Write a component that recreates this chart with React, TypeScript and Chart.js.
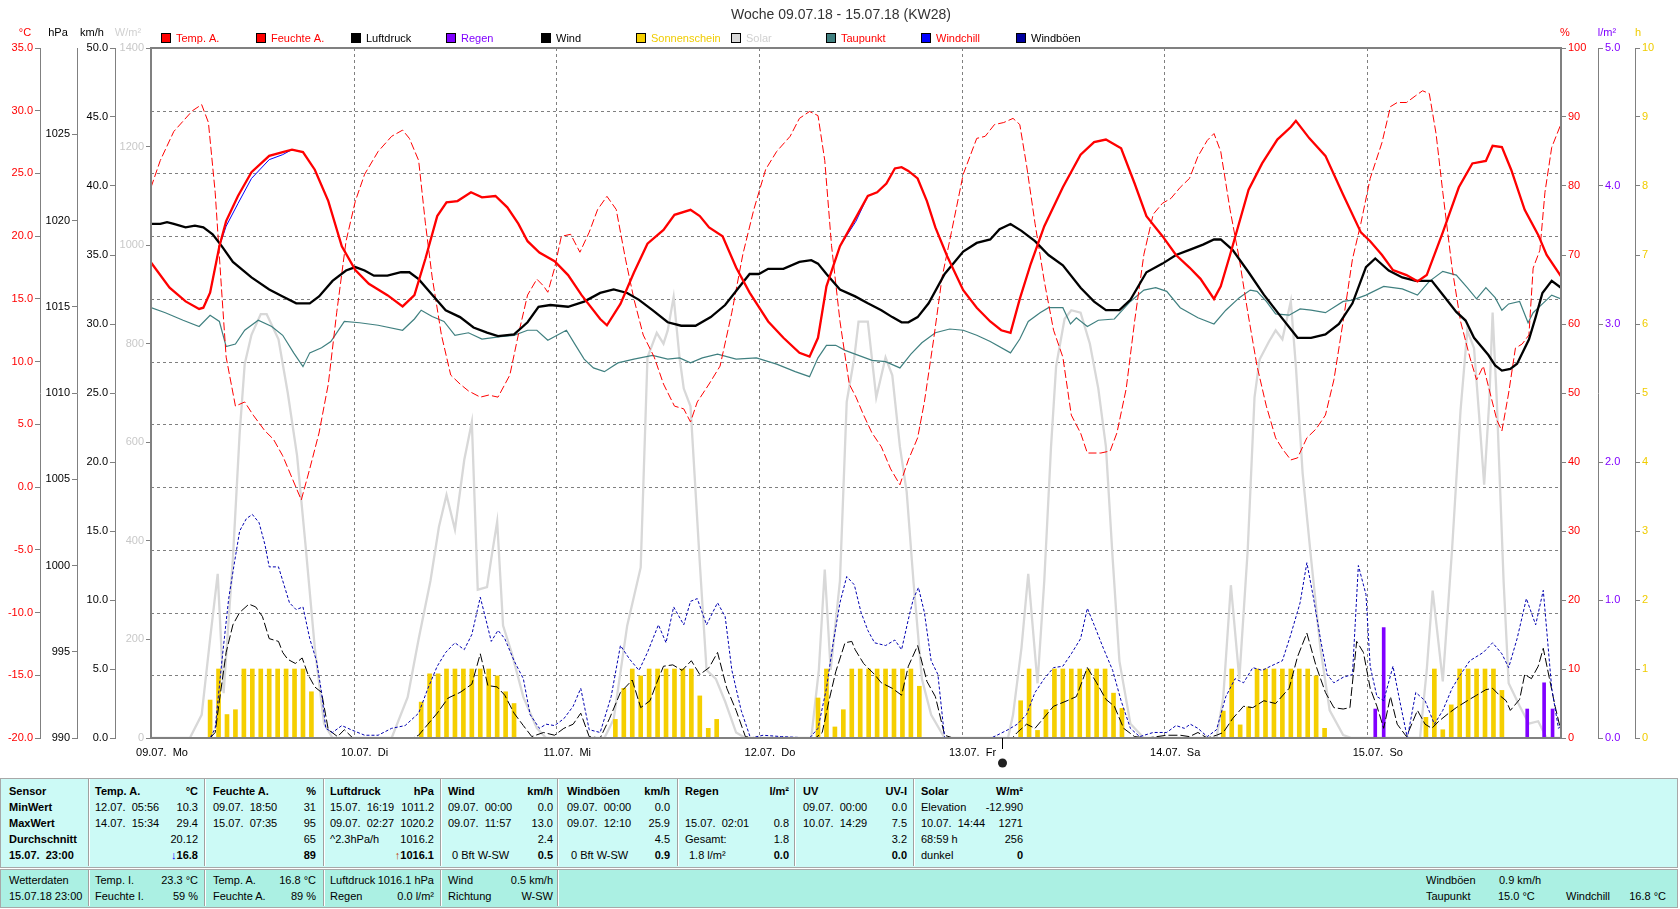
import React, { useEffect, useRef } from "react";
import { Chart, registerables } from "chart.js";

Chart.register(...registerables);

const FONT = '"Liberation Sans", Arial, Helvetica, sans-serif';
const GRID = "#808080";

// ---------- axes / labels ----------
const chartTitle = "Woche 09.07.18 - 15.07.18 (KW28)";
const dayHours = [0, 24, 48, 72, 96, 120, 144];
const dayLabels = ["09.07.  Mo", "10.07.  Di", "11.07.  Mi", "12.07.  Do", "13.07.  Fr", "14.07.  Sa", "15.07.  So"];
const tempTicks = [-20, -15, -10, -5, 0, 5, 10, 15, 20, 25, 30, 35];
const moonHour = 100.8;

// ---------- series (hour since 09.07. 00:00, value) ----------
const tempHours = [0,2.2,4.1,5.7,6.2,7,8.1,8.9,10.3,11.9,14,15.6,16.7,18,19.4,21,22.6,24.2,25.8,28,29.8,31.2,32.5,33.9,35,36.3,37.9,39.2,40.8,42.2,43.5,44.6,46,47.8,49.4,51,53.2,54,55.6,57.2,58.8,60.7,62,63.9,65,66.1,67.7,69.3,70.9,73.1,74.9,76.8,78,79,80,81.6,83.5,84.9,86,87.1,88.1,88.9,89.7,90.8,91.9,92.9,94.3,96.2,97.8,99.4,100.7,101.8,102.9,104.2,105.8,108,110.1,111.7,113.1,114.9,116.5,117.9,119.8,121.4,123,124.3,125.9,126.7,127.8,130,131.6,133.4,135,135.6,137.2,139.1,141.2,143.3,144.4,145.8,147.1,148.7,150,151.1,153,154.9,156.5,158.1,158.9,160,161.1,162.7,164.3,165.3,167];
const tempValues = [17.9,15.9,14.8,14.2,14.3,15.5,19.2,21.2,23.2,25.1,26.4,26.7,26.9,26.7,25.3,22.8,19.2,17.3,16.2,15.3,14.4,15.3,18.2,21.6,22.7,22.8,23.5,23.1,23.2,22.3,21.0,19.6,18.7,18.0,16.9,15.3,13.4,12.9,14.6,17.1,19.4,20.5,21.7,22.1,21.6,20.7,20.0,17.5,15.5,13.2,11.9,10.7,10.4,11.9,16.0,19.2,21.5,23.2,23.5,24.2,25.4,25.5,25.2,24.6,22.8,20.7,18.4,15.7,14.3,13.2,12.5,12.3,15.0,17.8,20.8,23.9,26.5,27.5,27.7,27.0,24.2,21.6,20.0,18.5,17.5,16.6,15.0,16.0,18.5,23.7,25.8,27.7,28.7,29.2,27.8,26.4,23.3,20.3,19.6,18.5,17.3,16.9,16.4,16.9,20.3,23.9,25.8,26.0,27.2,27.1,25.3,22.1,20.1,18.5,16.8];
const windchillValues = [17.9,15.9,14.8,14.2,14.3,15.5,19.2,20.8,22.6,24.6,26.1,26.5,26.9,26.7,25.3,22.8,19.2,17.3,16.2,15.3,14.4,15.3,18.2,21.6,22.7,22.8,23.5,23.1,23.2,22.3,21.0,19.6,18.7,18.0,16.9,15.3,13.4,12.9,14.6,17.1,19.4,20.5,21.7,22.1,21.6,20.7,20.0,17.5,15.5,13.2,11.9,10.7,10.4,11.9,16.0,19.2,21.2,23.2,23.5,24.2,25.4,25.5,25.2,24.6,22.8,20.7,18.4,15.7,14.3,13.2,12.5,12.3,15.0,17.8,20.8,23.9,26.5,27.5,27.7,27.0,24.2,21.6,20.0,18.5,17.5,16.6,15.0,16.0,18.5,23.7,25.8,27.7,28.7,29.2,27.8,26.4,23.3,20.3,19.6,18.5,17.3,16.9,16.4,16.9,20.3,23.9,25.8,26.0,27.2,27.1,25.3,22.1,20.1,18.5,16.8];

const humidity: number[][] = [[0,79.8],[1.1,83.7],[2.7,87.9],[3.8,89.4],[4.9,90.9],[6,91.8],[6.8,89.2],[7.6,79.1],[8.4,64.2],[8.9,55.2],[10,48.1],[11.1,48.7],[12.1,46.8],[13.5,44.5],[14.5,43.3],[15.6,40.9],[16.7,37.7],[17.8,34.5],[18.8,39],[19.9,44.2],[21,51.3],[22,61.7],[23.1,72],[24.2,77.8],[25.3,81.7],[26.9,85],[28.5,87.2],[29.8,88.1],[30.6,86.9],[31.7,83.7],[32.5,74.6],[33.3,66.8],[34.4,58.4],[35.5,52.6],[36.6,51.3],[37.6,50.3],[39,49.4],[40,49.7],[41.1,49.4],[42.5,52.6],[43.5,58.4],[44.6,64.2],[45.7,66.5],[46.5,65.5],[47,64.6],[47.8,68.1],[48.6,72.7],[49.7,73],[50.8,70.4],[51.9,73.3],[52.9,76.6],[54,78.5],[55.1,76.6],[56.2,69.4],[57.2,63.6],[58.3,58.4],[59.6,55.2],[60.7,51.3],[62,48.1],[63.1,47.7],[63.9,45.8],[64.7,48.7],[66.1,51.3],[67.4,53.9],[68.8,61.7],[70.1,70.1],[71.4,76.6],[72.8,82.4],[74.1,85],[75.7,87.2],[76.8,89.8],[78,90.8],[79,90.2],[79.8,83.7],[80.6,71.4],[81.6,60.4],[82.7,51.3],[83.5,49.4],[84.4,46.8],[85.4,44.2],[86.5,42.2],[87.6,39],[88.7,36.7],[89.7,40.3],[90.8,43.5],[91.6,48.7],[92.7,57.8],[93.7,66.8],[94.8,73.3],[96.2,81.7],[97.8,86.9],[98.8,87.2],[99.9,88.9],[101,89.2],[102.1,89.8],[102.9,88.9],[103.7,83],[104.7,74.6],[105.8,66.2],[106.9,59.1],[108,55.2],[109,46.8],[110.1,44.2],[110.9,41.3],[112.5,41.3],[113.6,41.6],[114.4,44.2],[115.5,50.6],[116.5,60.4],[117.6,70.1],[118.7,75.9],[119.8,77.5],[120.8,78.2],[121.9,79.8],[123,81.1],[124,84.3],[125.1,86.6],[125.9,87.6],[126.7,85],[127.8,76.6],[128.9,69.4],[129.9,61.7],[131,53.9],[132.1,48.1],[133.2,43.5],[134,41.9],[135,40.3],[135.8,40.6],[136.9,43.5],[138,44.8],[139.1,46.8],[140.1,51.9],[141.2,60.4],[142.3,69.4],[143.3,74.6],[144.4,81.1],[145.8,86.3],[146.8,91.5],[147.6,92.1],[148.7,92.1],[149.8,93.1],[150.6,93.8],[151.4,93.4],[152.2,87.6],[153,79.1],[154.1,68.1],[155.1,60.4],[156.2,55.2],[157,51.9],[157.8,53.9],[158.6,50],[159.4,46.1],[160,44.5],[160.8,50],[161.6,56.5],[162.4,57.1],[163.2,58.4],[163.7,68.1],[164.5,70.7],[165.1,79.1],[165.9,85.6],[167,89]];

const pressure: number[][] = [[0,1019.8],[1.1,1019.8],[1.9,1019.9],[2.7,1019.8],[4.1,1019.6],[5.2,1019.7],[6.2,1019.6],[7.3,1019.2],[8.4,1018.5],[9.7,1017.6],[11.9,1016.7],[14,1016.0],[15.6,1015.6],[17.2,1015.2],[18.8,1015.2],[19.9,1015.6],[21.5,1016.5],[23.1,1017.1],[24.2,1017.3],[25.3,1017.1],[26.4,1016.8],[28,1016.8],[29.6,1017.0],[30.6,1017.0],[31.7,1016.6],[33.3,1015.7],[34.9,1014.8],[36.6,1014.4],[38.2,1013.8],[39.8,1013.5],[41.1,1013.3],[43,1013.4],[44.6,1014.1],[45.9,1015.0],[47.3,1015.1],[49.4,1015.0],[51.3,1015.3],[53.2,1015.8],[54.8,1016.0],[56.4,1015.8],[57.8,1015.4],[59.4,1014.8],[61.2,1014.1],[62.8,1013.9],[64.5,1013.9],[66.3,1014.4],[68,1015.1],[69.6,1016.1],[70.9,1016.9],[72,1016.9],[73.1,1017.2],[74.9,1017.2],[76.8,1017.6],[78.2,1017.7],[79,1017.5],[80,1016.9],[81.6,1016.0],[83.4,1015.6],[84.9,1015.2],[86.5,1014.8],[87.8,1014.4],[88.9,1014.1],[89.7,1014.1],[90.8,1014.4],[92.1,1015.2],[94,1016.9],[96.2,1018.2],[97.8,1018.7],[99.4,1018.9],[100.5,1019.5],[101.8,1019.8],[103.1,1019.4],[104.7,1018.8],[106.3,1018.0],[108,1017.4],[110.1,1016.1],[111.7,1015.3],[113.1,1014.8],[114.7,1014.8],[116,1015.4],[117.9,1017.0],[119.8,1017.5],[121.4,1018.0],[123,1018.3],[124.6,1018.6],[125.9,1018.9],[126.7,1018.9],[128.1,1018.3],[130,1017.0],[131.8,1015.7],[133.7,1014.5],[135.8,1013.2],[137.4,1013.2],[139.1,1013.4],[140.7,1014.0],[142.3,1015.2],[143.9,1017.3],[145,1017.8],[146.6,1017.1],[148.2,1016.7],[149.8,1016.5],[151.7,1016.5],[153,1015.7],[154.6,1014.7],[155.7,1014.2],[156.7,1013.2],[158.4,1012.2],[159.2,1011.6],[160,1011.3],[161,1011.4],[161.8,1011.7],[163.2,1013.1],[164,1014.4],[164.8,1015.8],[165.9,1016.5],[167,1016.1]];

const dewpoint: number[][] = [[0,14.3],[1.7,13.9],[3.8,13.3],[5.7,12.8],[7,13.7],[8.1,13.2],[8.9,11.2],[10,11.4],[11.1,12.5],[12.7,13.3],[14.3,12.8],[15.6,12.1],[16.9,10.7],[18,9.6],[18.8,10.7],[20.2,11.1],[21.3,11.6],[22.9,13.2],[24.7,13.1],[26.9,12.9],[29.8,12.5],[31.2,13.4],[32,14.1],[33.3,13.6],[34.7,13.2],[36,12.1],[37.6,12.3],[39.2,11.8],[41.4,12.0],[43,12.1],[44.6,12.5],[45.7,12.5],[47,11.7],[48.1,12.1],[49.2,12.5],[50.2,11.4],[51.3,10.2],[52.4,9.5],[53.7,9.2],[55.3,9.9],[57.2,10.2],[59.4,10.5],[61.2,10.2],[62.6,10.3],[63.9,9.9],[65.3,10.3],[67.1,10.6],[69.3,10.2],[71.7,10.3],[74.1,9.8],[76.3,9.2],[78,8.8],[79,10.3],[80,11.3],[81.1,11.3],[82.2,10.9],[83.4,10.6],[85.4,10.1],[87,10.0],[88.7,9.5],[90,10.6],[91.3,11.5],[92.9,12.3],[94.6,12.6],[96.2,12.5],[97.8,12.1],[99.4,11.6],[101.8,10.7],[102.9,11.8],[103.9,13.2],[105.3,13.9],[106.3,14.3],[108,14.3],[108.9,13.0],[109.6,13.5],[110.9,12.8],[112.2,13.3],[114.1,13.4],[116,14.8],[117.6,15.7],[119,15.9],[120.3,15.6],[121.9,14.3],[124,13.5],[125.9,13.0],[127.3,14.1],[128.9,15.1],[130.2,15.7],[131,15.6],[132.1,14.8],[133.2,13.8],[134.8,13.7],[136.1,14.2],[137.4,14.1],[139.1,13.9],[141.2,14.8],[142.3,14.9],[143.9,15.3],[146,16.0],[148.2,15.8],[150,15.3],[151.4,16.4],[153,17.2],[154.6,16.9],[155.9,15.9],[157,15.0],[158.1,15.9],[159.2,15.1],[160,14.1],[160.8,14.6],[162.1,14.8],[163.1,13.1],[163.7,13.9],[164.8,14.6],[165.9,15.3],[167,15.0]];

const solar: number[][] = [[0,0],[4.6,0],[6,47],[7,201],[7.9,333],[8.6,91],[9.7,364],[10.5,618],[11.1,759],[11.9,818],[13,860],[13.7,860],[15.1,809],[16.2,700],[17.3,573],[18.3,392],[19.4,183],[20.5,29],[21.5,0],[28.5,0],[30.4,83],[31.7,201],[33.1,319],[34.1,428],[35,493],[36,423],[37.1,564],[38,641],[38.7,301],[39.8,306],[40.3,364],[41,439],[41.7,228],[42.7,174],[44.1,83],[45.7,20],[46.8,0],[53.7,0],[54.8,38],[56.4,228],[58,346],[58.8,772],[59.9,822],[60.7,800],[61.2,827],[61.9,895],[62.6,772],[63.1,709],[63.9,673],[65,355],[65.8,138],[66.9,120],[68,74],[69.3,11],[70.4,0],[78.2,0],[79.1,138],[79.8,342],[80.5,138],[81.6,319],[82.4,682],[83.3,772],[83.8,845],[84.9,845],[85.9,691],[87,772],[87.8,736],[88.7,591],[89.5,500],[90.3,319],[91.3,120],[92.4,47],[94,0],[101.5,0],[102.1,47],[103.1,183],[103.9,333],[105,111],[105.8,319],[106.6,591],[107.2,754],[108.2,850],[109,868],[110.1,863],[111.2,800],[112.2,709],[113.1,591],[113.9,364],[114.7,156],[116,29],[117.6,0],[126.2,0],[127,83],[127.9,310],[128.9,120],[129.9,383],[130.7,691],[131.3,768],[132.4,804],[133.2,827],[134,809],[135,886],[135.6,754],[136.4,537],[137.4,364],[138.5,183],[139.6,56],[141.2,6],[142.2,0],[150.3,0],[151.1,138],[151.8,299],[153,115],[154.1,383],[155.1,664],[155.9,827],[156.7,791],[157.3,655],[157.9,514],[158.5,682],[158.9,863],[159.4,682],[160.2,319],[160.8,111],[162.1,65],[163.2,29],[164.3,34],[165.3,0],[167,0]];

const wind: number[][] = [[0,0],[7,0],[7.6,0.4],[8.1,2.7],[8.9,6.2],[9.7,8.2],[10.5,9.1],[11.6,9.7],[12.4,9.5],[13.2,8.8],[14,7.2],[15.1,7.0],[15.6,6.2],[16.2,5.7],[17.1,5.4],[17.9,5.8],[18.6,4.6],[19.4,3.7],[20.2,3.3],[21,0.6],[22.1,0.1],[22.9,0.6],[23.9,0],[31,0],[31.7,0.2],[32.8,1.0],[33.9,1.8],[35.2,2.9],[36.6,3.3],[38,3.9],[39,6.1],[39.9,3.8],[41,3.7],[41.9,3.1],[43,1.8],[44.1,0.9],[45.1,0.1],[46.5,0.4],[47.8,0.2],[48.9,0.7],[50,1.0],[50.9,1.8],[51.9,0.1],[53.2,0],[54.3,1.4],[55.6,3.3],[57,4.2],[58,2.2],[59.1,2.7],[59.9,4.0],[60.7,5.2],[61.8,5.3],[62.9,4.9],[64,5.6],[65,4.6],[66.1,5.1],[67.1,6.2],[68.2,3.6],[69.3,2.0],[70.4,0.1],[71.4,0],[78.7,0],[79.5,0.4],[80.3,2.7],[81.1,4.8],[82.2,6.9],[83,7.0],[83.4,6.4],[84.4,5.4],[85.7,4.6],[86.5,4.0],[87.8,3.6],[88.9,3.1],[89.7,5.2],[90.8,6.7],[91.9,4.1],[92.9,3.0],[94,0.2],[95,0],[102,0],[102.6,0.4],[103.7,1.0],[104.7,0.7],[105.8,1.5],[106.9,2.3],[108.5,2.7],[109.6,3.0],[110.9,5.1],[112,4.0],[113.1,2.8],[114.1,2.3],[115.2,0.7],[116.5,0.1],[118,0],[120.3,0.2],[121.9,0.2],[123,0.1],[124,0.4],[125.1,0],[126.2,0.2],[127,0.4],[128.1,1.4],[129.4,2.3],[130.5,2.2],[131.8,2.7],[133.2,2.5],[134.8,3.6],[135.8,5.9],[136.9,7.6],[138,5.2],[139.1,3.3],[140.1,2.2],[141.2,2.1],[142,2.2],[142.8,7.0],[143.6,6.2],[144.4,3.6],[145.2,2.3],[146,0.7],[146.8,3.0],[147.6,1.0],[148.7,0.1],[150,2.0],[150.9,1.0],[151.7,0.7],[152.5,1.2],[153.5,1.7],[154.6,2.2],[155.9,2.7],[157,3.1],[158.1,3.5],[158.9,3.6],[159.7,3.1],[160.5,2.7],[161,2.0],[162.1,2.8],[162.7,4.6],[163.5,4.3],[164.3,5.2],[164.9,6.5],[165.6,4.4],[166.3,2.3],[167,0.5]];

const gusts: number[][] = [[0,0],[7,0],[7.6,0.7],[8.4,5.6],[9.2,10.1],[9.8,12.4],[10.5,15.0],[11.3,15.9],[12,16.2],[12.8,15.6],[13.5,14.0],[14,12.4],[15.1,12.4],[15.6,11.4],[16.4,9.8],[17.2,9.3],[18,9.5],[18.8,7.2],[19.6,5.6],[20.2,3.3],[20.7,0.7],[21.5,0.4],[22.6,0.9],[23.7,0.6],[25.3,0.2],[26.9,0.2],[28.5,0.7],[30.1,0.9],[31.7,1.8],[32.8,3.6],[33.9,5.2],[34.9,6.2],[36,6.9],[37.1,6.4],[38,7.5],[39,10.2],[39.7,8.5],[40.3,7.0],[41.1,7.8],[41.9,7.2],[43,5.6],[44.1,4.3],[44.9,1.7],[46,0.7],[46.8,1.0],[47.8,0.9],[48.9,1.4],[50,2.3],[50.9,3.6],[51.9,0.6],[53.2,0.4],[54.5,3.0],[55.6,6.7],[56.7,5.7],[57.8,4.9],[58.8,6.2],[60.1,8.2],[61,6.9],[61.9,9.5],[63.1,8.2],[63.9,9.9],[64.7,10.1],[65.8,8.2],[67.1,9.8],[68,8.8],[68.8,4.9],[69.9,2.0],[71,0],[72.5,0.2],[74.7,0.1],[78,0],[79,0.7],[80,3.6],[80.8,6.9],[81.6,9.8],[82.4,11.7],[83.3,11.1],[84.1,9.1],[84.9,7.8],[85.7,6.9],[87,6.7],[88.1,7.1],[88.9,6.4],[89.7,8.6],[90.3,10.1],[90.9,10.9],[91.6,9.1],[92.4,5.6],[93.2,4.6],[94,0],[99.5,0],[100.2,0.2],[101.5,0.6],[102.6,1.0],[103.7,1.7],[104.7,3.3],[105.8,4.3],[106.9,5.1],[108,5.2],[109,6.1],[110.1,7.2],[110.9,9.4],[111.7,8.2],[112.8,6.5],[113.9,4.9],[114.9,2.7],[116,0.7],[117.1,0.1],[118.7,0.4],[120.3,0.4],[121.4,0.9],[122.4,0.7],[123.1,1.0],[124,0.7],[125.1,0.1],[126.2,0.6],[127.3,3.0],[128.4,4.3],[129.4,4.0],[130.5,5.1],[131.6,4.9],[132.6,5.2],[134,5.6],[135,7.5],[136.1,9.8],[136.9,12.7],[137.7,10.1],[138.5,7.2],[139.3,4.6],[140.1,4.0],[141.2,4.4],[142.3,4.6],[143,12.5],[143.9,10.4],[144.4,5.2],[145.2,3.0],[146,2.7],[147.1,5.2],[147.9,2.7],[148.8,0],[149.8,3.3],[150.9,2.7],[152,1.0],[153,2.0],[154.1,3.6],[155.1,4.6],[156.2,5.6],[157.8,6.2],[158.9,6.9],[160,6.1],[160.8,5.1],[161.8,7.2],[162.9,10.1],[164,8.2],[164.9,10.7],[165.9,3.6],[166.7,0.7],[167,0.9]];

const sunshine: number[][] = [[7,0.55],[8,1],[9,0.34],[10,0.41],[11,1],[12,1],[13,1],[14,1],[15,1],[16,1],[17,1],[18,1],[19,0.67],
[32,0.52],[33,0.93],[34,0.93],[35,1],[36,1],[37,1],[38,1],[39,1],[40,1],[41,0.9],[42,0.67],[43,0.5],
[55,0.27],[56,0.72],[57,1],[58,0.9],[59,1],[60,1],[61,1],[62,1],[63,1],[64,1],[65,0.61],[66,0.14],[67,0.27],
[79,0.58],[80,1],[81,0.16],[82,0.41],[83,1],[84,1],[85,1],[86,1],[87,1],[88,1],[89,1],[90,1],[91,0.75],
[103,0.54],[104,1],[105,0.11],[106,0.41],[107,1],[108,1],[109,1],[110,1],[111,1],[112,1],[113,1],[114,0.65],[115,0.43],
[127,0.39],[128,1],[129,0.19],[130,0.45],[131,1],[132,1],[133,1],[134,1],[135,1],[136,1],[137,1],[138,0.9],[139,0.14],
[151,0.3],[152,1],[153,0.12],[154,0.48],[155,1],[156,1],[157,1],[158,1],[159,1],[160,0.69]];

const rain: number[][] = [[145,0.21],[146,0.8],[163,0.21],[165,0.4],[166,0.21]];

// ---------- legend ----------
const legendLabels = ["Temp. A.", "Feuchte A.", "Luftdruck", "Regen", "Wind", "Sonnenschein", "Solar", "Taupunkt", "Windchill", "Windböen"];
const legendFills = ["#FF0000", "#FF0000", "#000000", "#8000FF", "#000000", "#F5CF00", "#D8D8D8", "#408080", "#0000FF", "#0000A0"];
const legendTextColors = ["#FF0000", "#FF0000", "#000000", "#8000FF", "#000000", "#F0CC00", "#D0D0D0", "#FF0000", "#FF0000", "#000000"];

const fromPairs = (p: number[][]) => p.map(([x, y]) => ({ x, y }));
const fromArrays = (h: number[], v: number[]) => h.slice(0, Math.min(h.length, v.length)).map((x, i) => ({ x, y: v[i] }));

const decorPlugin = {
  id: "decor",
  beforeDatasetsDraw(chart: any) {
    const { ctx, chartArea: a, scales } = chart;
    ctx.save();
    ctx.strokeStyle = GRID;
    ctx.lineWidth = 1;
    ctx.setLineDash([3, 3]);
    for (const v of tempTicks) {
      const y = Math.round(scales.yT.getPixelForValue(v)) + 0.5;
      if (y <= a.top + 2 || y >= a.bottom - 2) continue;
      ctx.beginPath();
      ctx.moveTo(a.left, y);
      ctx.lineTo(a.right, y);
      ctx.stroke();
    }
    for (const h of dayHours) {
      const x = Math.round(scales.x.getPixelForValue(h)) + 0.5;
      if (x <= a.left + 2) continue;
      ctx.beginPath();
      ctx.moveTo(x, a.top);
      ctx.lineTo(x, a.bottom);
      ctx.stroke();
    }
    ctx.restore();
  },
  afterDatasetsDraw(chart: any) {
    const { ctx, chartArea: a } = chart;
    ctx.save();
    ctx.strokeStyle = GRID;
    ctx.lineWidth = 2;
    ctx.strokeRect(a.left, a.top, a.right - a.left, a.bottom - a.top);
    ctx.restore();
  },
  afterDraw(chart: any) {
    const { ctx, chartArea: a, scales } = chart;
    ctx.save();
    // title
    ctx.font = `14px ${FONT}`;
    ctx.fillStyle = "#333333";
    ctx.textAlign = "center";
    ctx.textBaseline = "middle";
    ctx.fillText(chartTitle, 841, 15);
    // legend
    ctx.font = `11px ${FONT}`;
    ctx.textAlign = "left";
    legendLabels.forEach((lab, i) => {
      const x = 161 + i * 95;
      ctx.fillStyle = legendFills[i];
      ctx.fillRect(x, 33, 10, 10);
      ctx.strokeStyle = "#000";
      ctx.lineWidth = 1;
      ctx.strokeRect(x + 0.5, 33.5, 9, 9);
      ctx.fillStyle = legendTextColors[i];
      ctx.fillText(lab, x + 15, 38.5);
    });
    // axis units
    const units: [string, number, string][] = [
      ["°C", 25, "#FF0000"], ["hPa", 58, "#000"], ["km/h", 92, "#000"], ["W/m²", 128, "#D0D0D0"],
      ["%", 1565, "#FF0000"], ["l/m²", 1607, "#8000FF"], ["h", 1638, "#F0CC00"],
    ];
    ctx.textAlign = "center";
    for (const [t, x, c] of units) {
      ctx.fillStyle = c;
      ctx.fillText(t, x, 33);
    }
    // moon phase marker
    const mx = Math.round(scales.x.getPixelForValue(moonHour)) + 0.5;
    ctx.strokeStyle = "#000";
    ctx.lineWidth = 1;
    ctx.beginPath();
    ctx.moveTo(mx, a.bottom);
    ctx.lineTo(mx, a.bottom + 11);
    ctx.stroke();
    ctx.fillStyle = "#202020";
    ctx.beginPath();
    ctx.arc(mx, a.bottom + 25, 4.5, 0, Math.PI * 2);
    ctx.fill();
    ctx.restore();
  },
};

function yAxis(position: string, weight: number, width: number, min: number, max: number, step: number, color: string, fmt: (v: number) => string, borderWidth: number, dropTop = false) {
  return {
    type: "linear",
    position,
    weight,
    min,
    max,
    afterFit: (s: any) => { s.width = width; },
    afterBuildTicks: dropTop ? (s: any) => { s.ticks = s.ticks.filter((t: any) => t.value < max); } : undefined,
    ticks: { stepSize: step, color, font: { family: FONT, size: 11 }, padding: 2, autoSkip: false, includeBounds: false, callback: (v: any) => fmt(Number(v)) },
    grid: { display: true, drawOnChartArea: false, drawTicks: true, tickLength: 5, color: GRID, lineWidth: 1 },
    border: { display: true, color: GRID, width: borderWidth },
  };
}

function line(label: string, data: any[], yAxisID: string, color: string, width: number, dash: number[], order: number) {
  return {
    type: "line", label, data, yAxisID, xAxisID: "x",
    borderColor: color, backgroundColor: color, borderWidth: width, borderDash: dash,
    pointRadius: 0, tension: 0, fill: false, order, spanGaps: true,
  };
}

export default function App() {
  const ref = useRef<HTMLCanvasElement | null>(null);
  useEffect(() => {
    if (!ref.current) return;
    const chart = new Chart(ref.current, {
      type: "line",
      data: {
        datasets: [
          line("Temp. A.", fromArrays(tempHours, tempValues), "yT", "#FF0000", 2.3, [], 1),
          line("Windchill", fromArrays(tempHours, windchillValues), "yT", "#0000FF", 1, [], 2),
          line("Luftdruck", fromPairs(pressure), "yP", "#000000", 2.3, [], 3),
          line("Feuchte A.", fromPairs(humidity), "yPct", "#FF0000", 1, [8, 3], 4),
          line("Taupunkt", fromPairs(dewpoint), "yT", "#408080", 1.2, [], 5),
          line("Windböen", fromPairs(gusts), "yW", "#0000B0", 1, [3, 2], 6),
          line("Wind", fromPairs(wind), "yW", "#000000", 1, [9, 3], 7),
          { type: "bar", label: "Regen", data: fromPairs(rain), yAxisID: "yR", xAxisID: "x", backgroundColor: "#8000FF", borderWidth: 0, barThickness: 3, grouped: false, order: 8 },
          { type: "bar", label: "Sonnenschein", data: fromPairs(sunshine), yAxisID: "yH", xAxisID: "x", backgroundColor: "#F5CF00", borderWidth: 0, barThickness: 4, grouped: false, order: 9 },
          line("Solar", fromPairs(solar), "yS", "#D8D8D8", 2.3, [], 10),
        ] as any,
      },
      options: {
        animation: false,
        responsive: false,
        devicePixelRatio: 1,
        events: [],
        layout: { padding: { top: 48, bottom: 7, left: 0, right: 0 } },
        plugins: { legend: { display: false }, tooltip: { enabled: false }, title: { display: false } },
        scales: {
          x: {
            type: "linear", position: "bottom", min: 0, max: 167, offset: false,
            afterFit: (s: any) => { s.height = 30; },
            afterBuildTicks: (s: any) => { s.ticks = dayHours.map((v) => ({ value: v })); },
            ticks: {
              autoSkip: false, maxRotation: 0, minRotation: 0, padding: 8, labelOffset: 11,
              color: "#000", font: { family: FONT, size: 11 },
              callback: (_v: any, i: number) => dayLabels[i] ?? "",
            },
            grid: { display: false, drawTicks: false, offset: false },
            border: { display: true, color: GRID, width: 2 },
          },
          yT: yAxis("left", 3, 40, -20, 35, 5, "#FF0000", (v) => v.toFixed(1), 1),
          yP: yAxis("left", 2, 37, 990, 1030, 5, "#000000", (v) => String(v), 1, true),
          yW: yAxis("left", 1, 38, 0, 50, 5, "#000000", (v) => v.toFixed(1), 1),
          yS: yAxis("left", 0, 36, 0, 1400, 200, "#C8C8C8", (v) => String(v), 2),
          yPct: yAxis("right", 0, 37, 0, 100, 10, "#FF0000", (v) => String(v), 2),
          yR: yAxis("right", 1, 37, 0, 5, 1, "#8000FF", (v) => v.toFixed(1), 1),
          yH: yAxis("right", 2, 45, 0, 10, 1, "#F0CC00", (v) => String(v), 1),
        } as any,
      },
      plugins: [decorPlugin as any],
    });
    return () => chart.destroy();
  }, []);

  const sepTop = [88, 204, 323, 440, 557, 677, 794, 913];
  const sepBottom = [88, 204, 323, 440, 557];

  type Cell = [number, number, string, boolean?, boolean?, string?];
  // [x, row, text, rightAligned, bold]
  const topCells: Cell[] = [
    [9, 0, "Sensor", false, true], [95, 0, "Temp. A.", false, true], [198, 0, "°C", true, true],
    [213, 0, "Feuchte A.", false, true], [316, 0, "%", true, true], [330, 0, "Luftdruck", false, true], [434, 0, "hPa", true, true],
    [448, 0, "Wind", false, true], [553, 0, "km/h", true, true], [567, 0, "Windböen", false, true], [670, 0, "km/h", true, true],
    [685, 0, "Regen", false, true], [789, 0, "l/m²", true, true], [803, 0, "UV", false, true], [907, 0, "UV-I", true, true],
    [921, 0, "Solar", false, true], [1023, 0, "W/m²", true, true],
    [9, 1, "MinWert", false, true], [95, 1, "12.07.  05:56"], [198, 1, "10.3", true], [213, 1, "09.07.  18:50"], [316, 1, "31", true],
    [330, 1, "15.07.  16:19"], [434, 1, "1011.2", true], [448, 1, "09.07.  00:00"], [553, 1, "0.0", true],
    [567, 1, "09.07.  00:00"], [670, 1, "0.0", true], [803, 1, "09.07.  00:00"], [907, 1, "0.0", true],
    [921, 1, "Elevation"], [1023, 1, "-12.990", true],
    [9, 2, "MaxWert", false, true], [95, 2, "14.07.  15:34"], [198, 2, "29.4", true], [213, 2, "15.07.  07:35"], [316, 2, "95", true],
    [330, 2, "09.07.  02:27"], [434, 2, "1020.2", true], [448, 2, "09.07.  11:57"], [553, 2, "13.0", true],
    [567, 2, "09.07.  12:10"], [670, 2, "25.9", true], [685, 2, "15.07.  02:01"], [789, 2, "0.8", true],
    [803, 2, "10.07.  14:29"], [907, 2, "7.5", true], [921, 2, "10.07.  14:44"], [1023, 2, "1271", true],
    [9, 3, "Durchschnitt", false, true], [198, 3, "20.12", true], [316, 3, "65", true], [330, 3, "^2.3hPa/h"], [434, 3, "1016.2", true],
    [553, 3, "2.4", true], [670, 3, "4.5", true], [685, 3, "Gesamt:"], [789, 3, "1.8", true], [907, 3, "3.2", true],
    [921, 3, "68:59 h"], [1023, 3, "256", true],
    [9, 4, "15.07.  23:00", false, true], [316, 4, "89", true, true],
    [452, 4, "0 Bft W-SW"], [553, 4, "0.5", true, true], [571, 4, "0 Bft W-SW"], [670, 4, "0.9", true, true],
    [689, 4, "1.8 l/m²"], [789, 4, "0.0", true, true], [907, 4, "0.0", true, true], [921, 4, "dunkel"], [1023, 4, "0", true, true],
  ];
  const bottomCells: Cell[] = [
    [9, 0, "Wetterdaten"], [9, 1, "15.07.18 23:00"],
    [95, 0, "Temp. I."], [198, 0, "23.3 °C", true], [95, 1, "Feuchte I."], [198, 1, "59 %", true],
    [213, 0, "Temp. A."], [316, 0, "16.8 °C", true], [213, 1, "Feuchte A."], [316, 1, "89 %", true],
    [330, 0, "Luftdruck"], [434, 0, "1016.1 hPa", true], [330, 1, "Regen"], [434, 1, "0.0 l/m²", true],
    [448, 0, "Wind"], [553, 0, "0.5 km/h", true], [448, 1, "Richtung"], [553, 1, "W-SW", true],
    [1426, 0, "Windböen"], [1499, 0, "0.9 km/h"], [1426, 1, "Taupunkt"], [1498, 1, "15.0 °C"],
    [1566, 1, "Windchill"], [1666, 1, "16.8 °C", true],
  ];

  const renderCell = (c: Cell, top0: number, key: string) => {
    const [x, row, text, right, bold] = c;
    const style: any = {
      position: "absolute", top: top0 + row * 16, lineHeight: "16px", whiteSpace: "pre",
      fontWeight: bold ? 700 : 400, color: "#000",
    };
    if (right) style.right = 1680 - x; else style.left = x;
    return <div key={key} style={style}>{text}</div>;
  };

  const sep = (x: number, top: number, h: number, key: string) => (
    <div key={key} style={{ position: "absolute", left: x, top, width: 1, height: h, background: "#A0A0A0", borderRight: "1px solid #FFFFFF" }} />
  );

  return (
    <div style={{ position: "fixed", left: 0, top: 0, width: 1680, height: 909, background: "#FFFFFF", overflow: "hidden", fontFamily: FONT, fontSize: 11 }}>
      <canvas ref={ref} width={1680} height={775} style={{ position: "absolute", left: 0, top: 0, width: 1680, height: 775, display: "block" }} />
      <div style={{ position: "absolute", left: 0, top: 778, width: 1676, height: 88, background: "#CCFAF6", border: "1px solid #A8A8A8" }} />
      <div style={{ position: "absolute", left: 0, top: 869, width: 1676, height: 37, background: "#ABF0E3", border: "1px solid #A8A8A8" }} />
      {sepTop.map((x, i) => sep(x, 779, 87, "st" + i))}
      {sepBottom.map((x, i) => sep(x, 870, 36, "sb" + i))}
      {topCells.map((c, i) => renderCell(c, 783, "t" + i))}
      {bottomCells.map((c, i) => renderCell(c, 872, "b" + i))}
      <div style={{ position: "absolute", top: 783 + 64, right: 1680 - 198, lineHeight: "16px", fontWeight: 700, whiteSpace: "pre" }}>
        <span style={{ color: "#0000FF" }}>↓</span>16.8
      </div>
      <div style={{ position: "absolute", top: 783 + 64, right: 1680 - 434, lineHeight: "16px", fontWeight: 700, whiteSpace: "pre" }}>
        <span style={{ color: "#C04000" }}>↑</span>1016.1
      </div>
    </div>
  );
}
